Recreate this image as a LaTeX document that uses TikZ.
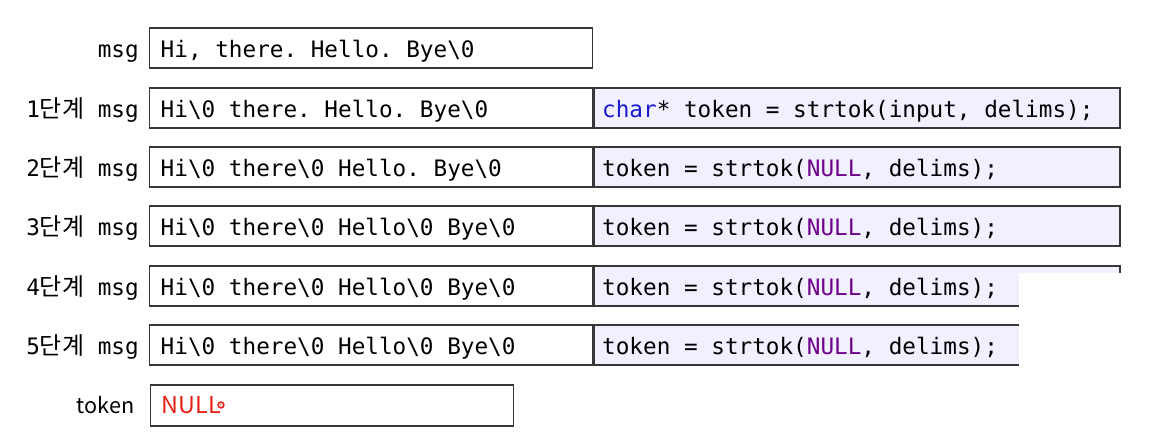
\documentclass[tikz,border=0pt]{standalone}
\usepackage{fontspec}
\setmonofont{DejaVu Sans Mono}[WordSpace={1,0,0}, PunctuationSpace=0]
\newfontfamily\krfont{Noto Sans CJK KR}
\usetikzlibrary{positioning}

\definecolor{boxfill}{RGB}{240,240,254}
\definecolor{boxline}{RGB}{55,55,55}
\definecolor{kwblue}{RGB}{25,25,205}
\definecolor{macropurple}{RGB}{111,0,138}
\definecolor{nullred}{RGB}{232,32,20}

\newcommand{\codefont}{\fontsize{17}{20}\selectfont\ttfamily}
\newcommand{\nz}{\textbackslash0}
\newcommand{\nullm}{\textcolor{macropurple}{NULL}}
\newcommand{\stepnum}[1]{#1{\krfont\fontsize{18}{20}\selectfont 단계} msg}

\tikzset{
  msgbox/.style={draw=boxline, line width=1.1pt, anchor=west, inner xsep=8.25pt, inner ysep=0pt,
    text width=315.75pt, minimum height=30pt, text height=15pt, text depth=1pt, align=flush left, font=\codefont},
  codebox/.style={msgbox, fill=boxfill, inner xsep=6pt, text width=382.5pt},
  lbl/.style={inner sep=0pt, text height=15pt, text depth=1pt, font=\codefont}
}

\begin{document}
\begin{tikzpicture}[x=0.75pt, y=-0.75pt]
        \useasboundingbox (0,0) rectangle (1150,442);

        % first line, before strtok
        \node[msgbox] (msg0) at (149,48) {Hi, there. Hello. Bye\nz};
        \node[lbl, left=7.5pt of msg0] (lbl0) {msg};

        % steps
        \node[msgbox] (msg1) at (149,108) {Hi\nz{} there. Hello. Bye\nz};
        \node[codebox, right=0pt of msg1] (code1) {\textcolor{kwblue}{char}* token = strtok(input, delims);};
        \node[lbl, left=7.5pt of msg1] (lbl1) {\stepnum{1}};

        \node[msgbox] (msg2) at (149,167) {Hi\nz{} there\nz{} Hello. Bye\nz};
        \node[codebox, right=0pt of msg2] (code2) {token = strtok(\nullm, delims);};
        \node[lbl, left=7.5pt of msg2] (lbl2) {\stepnum{2}};

        \node[msgbox] (msg3) at (149,226) {Hi\nz{} there\nz{} Hello\nz{} Bye\nz};
        \node[codebox, right=0pt of msg3] (code3) {token = strtok(\nullm, delims);};
        \node[lbl, left=7.5pt of msg3] (lbl3) {\stepnum{3}};

        \node[msgbox] (msg4) at (149,286) {Hi\nz{} there\nz{} Hello\nz{} Bye\nz};
        \node[codebox, right=0pt of msg4] (code4) {token = strtok(\nullm, delims);};
        \node[lbl, left=7.5pt of msg4] (lbl4) {\stepnum{4}};

        \node[msgbox] (msg5) at (149,345) {Hi\nz{} there\nz{} Hello\nz{} Bye\nz};
        \node[codebox, right=0pt of msg5] (code5) {token = strtok(\nullm, delims);};
        \node[lbl, left=7.5pt of msg5] (lbl5) {\stepnum{5}};

        % cut off right ends of the last two code lines
        \fill[white] (1019,273) rectangle (1135,375);

        % result
        \node[msgbox, text width=255.75pt, minimum height=30.75pt, text height=13pt, text depth=1.4pt,
          font=\fontsize{17.5}{20}\selectfont\krfont] (tok) at (150,405.5) {\textcolor{nullred}{NULL}};
        \node[lbl, left=11.5pt of tok, text height=13pt, text depth=1.4pt, font=\fontsize{16.2}{20}\selectfont\krfont] (lbltok) {token};
        \filldraw[draw=nullred, fill=nullred!25, line width=1pt] (221,405) circle (3);
    \end{tikzpicture}
\end{document}
